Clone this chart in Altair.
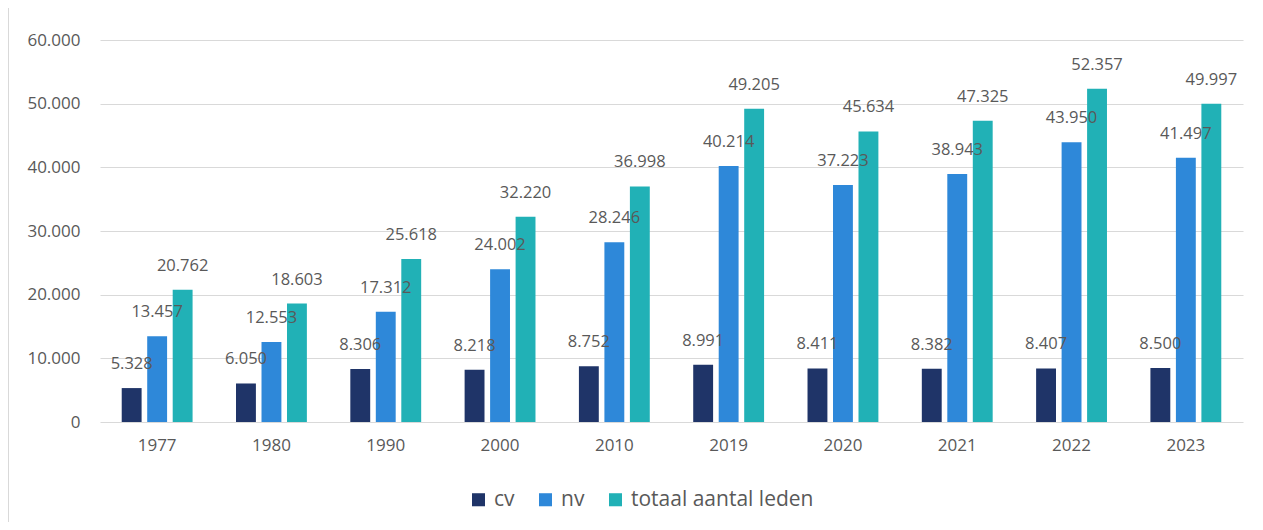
import altair as alt
import pandas as pd

years = ["1977", "1980", "1990", "2000", "2010", "2019", "2020", "2021", "2022", "2023"]
series = ["cv", "nv", "totaal aantal leden"]
cv = [5328, 6050, 8306, 8218, 8752, 8991, 8411, 8382, 8407, 8500]
nv = [13457, 12553, 17312, 24002, 28246, 40214, 37223, 38943, 43950, 41497]
totaal = [20762, 18603, 25618, 32220, 36998, 49205, 45634, 47325, 52357, 49997]
colors = ["#1f3468", "#2e88d9", "#21b1b6"]

rows = []
for s, vals in zip(series, [cv, nv, totaal]):
    for y, v in zip(years, vals):
        rows.append({"jaar": y, "serie": s, "waarde": v,
                     "label": f"{v:,}".replace(",", ".")})
df = pd.DataFrame(rows)

FONT = "Open Sans"
GREY = "#595959"

x = alt.X("jaar:N", sort=years, title=None,
          scale=alt.Scale(paddingInner=0.38, paddingOuter=0.19),
          axis=alt.Axis(labelAngle=0, ticks=False, domain=False, labelPadding=15,
                        labelFont=FONT, labelFontSize=17, labelColor=GREY))
xo = alt.XOffset("serie:N", sort=series, scale=alt.Scale(paddingInner=0.22))

base = alt.Chart(df)

bars = base.mark_bar().encode(
    x=x, xOffset=xo,
    y=alt.Y("waarde:Q", title=None,
            scale=alt.Scale(domain=[0, 60000]),
            axis=alt.Axis(values=[0, 10000, 20000, 30000, 40000, 50000, 60000],
                          labelExpr="replace(format(datum.value, ','), ',', '.')",
                          ticks=False, domain=False, labelPadding=20,
                          gridColor="#d9d9d9", gridWidth=1.2,
                          labelFont=FONT, labelFontSize=17, labelColor=GREY)),
    color=alt.Color("serie:N", sort=series,
                    scale=alt.Scale(domain=series, range=colors),
                    legend=alt.Legend(title=None, orient="none", direction="horizontal",
                                      legendX=368, legendY=449,
                                      symbolType="square", symbolSize=170,
                                      symbolStrokeWidth=0, labelLimit=0,
                                      labelFont=FONT, labelFontSize=21, labelColor=GREY,
                                      columnPadding=20, labelOffset=5)),
)

labels = base.mark_text(baseline="middle", dy=-24, font=FONT, fontSize=16.5,
                        color=GREY).encode(
    x=x, xOffset=xo,
    y=alt.Y("waarde:Q"),
    text="label:N",
)

border = alt.Chart(pd.DataFrame({"a": [0]})).mark_rule(color="#d9d9d9", strokeWidth=2).encode(
    x=alt.value(-92), y=alt.value(-40), y2=alt.value(490)
)

chart = alt.layer(bars, labels, border).properties(
    width=1143, height=382,
    autosize=alt.AutoSizeParams(type="none"),
    padding={"left": 92, "top": 32, "right": 12, "bottom": 100},
).configure_view(stroke=None)

chart.save("out.html", embed_options={"renderer": "svg", "actions": False})
